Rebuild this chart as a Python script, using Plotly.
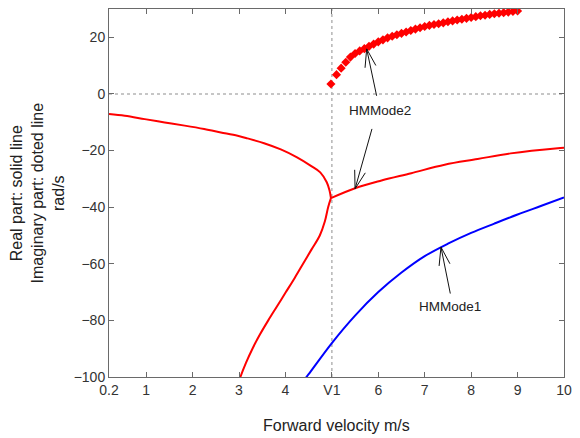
import math
import plotly.graph_objects as go

# Forward velocity (m/s) and eigenvalue branches (rad/s)
V1 = 5.0

# real part, upper branch before the coalescence speed
real_upper_v = [0.2, 0.54, 0.97, 1.40, 1.83, 2.25, 2.61, 2.97, 3.18, 3.54, 3.90,
                4.25, 4.54, 4.75, 4.89, 4.95, 4.98]
real_upper = [-7.1, -7.7, -8.9, -10.1, -11.2, -12.4, -13.6, -14.8, -15.7, -17.4, -19.6,
              -22.4, -25.3, -27.7, -31.2, -34.1, -36.8]

# real part, lower branch before the coalescence speed
real_lower_v = [4.98, 4.92, 4.85, 4.74, 4.56, 4.38, 4.20, 4.01, 3.82, 3.63, 3.45, 3.29,
                3.15, 3.03, 3.02]
real_lower = [-36.8, -40.0, -45.0, -50.0, -55.0, -60.0, -65.0, -70.0, -75.0, -80.0, -85.0,
              -90.0, -95.0, -100.0, -100.5]

# real part of the complex pair (HMMode2) above V1
real_pair_v = [4.98, 5.50, 6.07, 6.71, 7.43, 8.14, 8.85, 9.92, 10.0]
real_pair = [-36.8, -33.3, -30.6, -28.0, -25.0, -23.0, -21.0, -19.1, -19.0]

# imaginary part of HMMode2
imag_v = [4.98, 5.1, 5.2, 5.3, 5.4, 5.5, 5.6, 5.7, 5.8, 5.9, 6.0,
          6.1, 6.2, 6.3, 6.4, 6.5, 6.6, 6.7, 6.8, 6.9, 7.0,
          7.1, 7.2, 7.3, 7.4, 7.5, 7.6, 7.7, 7.8, 7.9, 8.0,
          8.1, 8.2, 8.3, 8.4, 8.5, 8.6, 8.7, 8.8, 8.9, 9.0]
imag = [3.5, 6.8, 9.1, 11.2, 13.0, 14.3, 15.2, 16.0, 16.8, 17.6, 18.4,
        19.1, 19.8, 20.4, 20.9, 21.4, 21.9, 22.4, 22.9, 23.4, 23.8,
        24.2, 24.5, 24.8, 25.1, 25.5, 25.8, 26.1, 26.4, 26.7, 27.0,
        27.3, 27.6, 27.8, 28.1, 28.3, 28.5, 28.7, 28.9, 29.1, 29.3]

# HMMode1 (real)
mode1_v = [4.43, 4.5, 5.0, 5.5, 6.0, 6.5, 7.0, 7.5, 8.0, 8.5, 9.0, 9.5, 10.0]
mode1 = [-100.5, -99.0, -88.0, -78.3, -70.0, -63.1, -57.3, -52.9, -49.1, -45.8, -42.6,
         -39.6, -36.6]

x_ticks = [0.2, 1, 2, 3, 4, 5, 6, 7, 8, 9, 10]
x_tick_text = ["0.2", "1", "2", "3", "4", "V1", "6", "7", "8", "9", "10"]
y_ticks = [-100, -80, -60, -40, -20, 0, 20]

X0, X1 = 0.2, 10.0
Y0, Y1 = -100.0, 30.0

W, H = 580, 438
M_L, M_R, M_T, M_B = 109, 13, 8, 61
PW, PH = W - M_L - M_R, H - M_T - M_B

FONT = "Arial, Liberation Sans, sans-serif"
RED = "#ff0000"
BLUE = "#0000ff"

fig = go.Figure()

line_kw = dict(mode="lines", line_shape="spline", hoverinfo="skip", showlegend=False)
fig.add_trace(go.Scatter(x=real_upper_v, y=real_upper, line=dict(color=RED, width=2), **line_kw))
fig.add_trace(go.Scatter(x=real_lower_v, y=real_lower, line=dict(color=RED, width=2), **line_kw))
fig.add_trace(go.Scatter(x=real_pair_v, y=real_pair, line=dict(color=RED, width=2), **line_kw))
fig.add_trace(go.Scatter(x=mode1_v, y=mode1, line=dict(color=BLUE, width=2), **line_kw))
fig.add_trace(go.Scatter(x=imag_v, y=imag, mode="markers", hoverinfo="skip", showlegend=False,
                         marker=dict(symbol="diamond", size=7, color=RED, line=dict(width=0))))

# dotted reference lines at zero and at V1
dot = dict(color="#b4b4b4", width=1.5, dash="dot")
fig.add_shape(type="line", xref="x", yref="y", x0=X0, x1=X1, y0=0, y1=0, line=dot, layer="below")
fig.add_shape(type="line", xref="x", yref="y", x0=V1, x1=V1, y0=Y0, y1=Y1, line=dot, layer="below")


def arrow_path(tip_x, tip_y, dx_px, dy_px, arm=19, spread=17):
    """Open-headed arrow: tail offset in screen pixels from the tip."""
    sx = (X1 - X0) / PW
    sy = (Y1 - Y0) / PH
    tail_x = tip_x + dx_px * sx
    tail_y = tip_y - dy_px * sy
    ang = math.atan2(dy_px, dx_px)
    pts = []
    for s in (-spread, spread):
        a = ang + math.radians(s)
        pts.append((tip_x + arm * math.cos(a) * sx, tip_y - arm * math.sin(a) * sy))
    return (f"M {tail_x},{tail_y} L {tip_x},{tip_y} "
            f"M {pts[0][0]},{pts[0][1]} L {tip_x},{tip_y} L {pts[1][0]},{pts[1][1]}")


arrows = [
    (5.75, 15.9, 10, 47),     # HMMode2, imaginary part
    (5.50, -33.5, 17, -60),   # HMMode2, real part
    (7.35, -54.1, 9.4, 46.6), # HMMode1
]
for tx, ty, dx, dy in arrows:
    fig.add_shape(type="path", xref="x", yref="y", path=arrow_path(tx, ty, dx, dy),
                  line=dict(color="#111111", width=1))

fig.add_annotation(x=6.04, y=-5.8, xref="x", yref="y", text="HMMode2", showarrow=False,
                   font=dict(family=FONT, size=13.5, color="#222222"))
fig.add_annotation(x=7.55, y=-75.2, xref="x", yref="y", text="HMMode1", showarrow=False,
                   font=dict(family=FONT, size=13.5, color="#222222"))

# axis titles
fig.add_annotation(x=-(M_L - 37) / PW, y=0.5, xref="paper", yref="paper",
                   text="Real part: solid line<br>Imaginary part: doted line<br>rad/s",
                   textangle=-90, showarrow=False, xanchor="center", yanchor="middle",
                   font=dict(family=FONT, size=16, color="#222222"))
fig.add_annotation(x=0.5, y=-(426 - (M_T + PH)) / PH, xref="paper", yref="paper",
                   text="Forward velocity m/s", showarrow=False, xanchor="center", yanchor="middle",
                   font=dict(family=FONT, size=16, color="#222222"))

axis_common = dict(showgrid=False, zeroline=False, showline=True, linecolor="#6a6a6a", linewidth=1,
                   mirror="ticks", ticks="inside", ticklen=5, tickcolor="#6a6a6a", tickwidth=1,
                   tickfont=dict(family=FONT, size=14, color="#333333"))

fig.update_layout(
    width=W, height=H,
    margin=dict(l=M_L, r=M_R, t=M_T, b=M_B, pad=0),
    paper_bgcolor="white", plot_bgcolor="white",
    xaxis=dict(range=[X0, X1], tickmode="array", tickvals=x_ticks, ticktext=x_tick_text, **axis_common),
    yaxis=dict(range=[Y0, Y1], tickmode="array", tickvals=y_ticks, **axis_common),
)

fig.write_html("out.html")
